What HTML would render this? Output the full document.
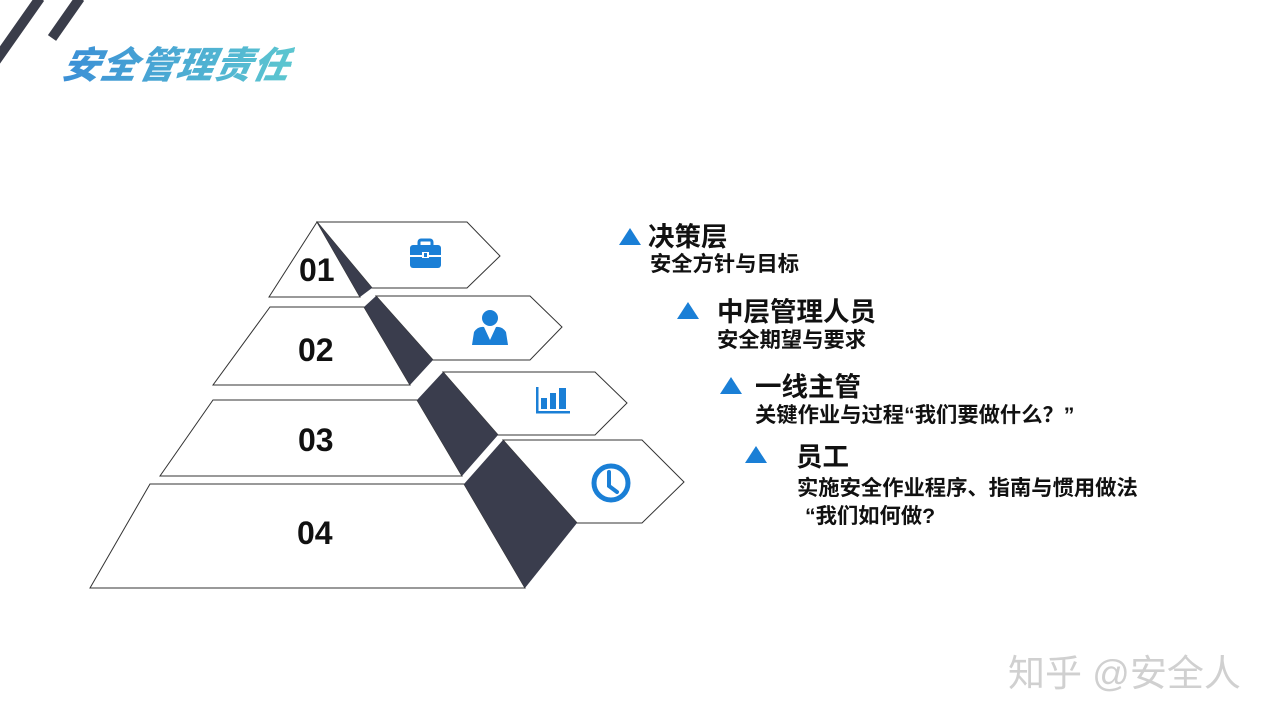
<!DOCTYPE html>
<html><head><meta charset="utf-8"><style>
body{margin:0;width:1280px;height:720px;background:#fff;overflow:hidden;position:relative;font-family:"Liberation Sans","Noto Sans CJK SC",sans-serif}
.t{position:absolute;white-space:nowrap;font-weight:bold;color:#111}
.h{font-size:26.5px}.s{font-size:21.3px}
.n{font-size:32px}
.title{position:absolute;left:64px;top:35px;font-size:37px;font-weight:900;font-style:italic;background:linear-gradient(90deg,#3b8fd6,#5cc6d0);-webkit-background-clip:text;background-clip:text;color:transparent;transform:skewX(-12deg);letter-spacing:1px}
.wm{position:absolute;left:1008px;top:643px;font-size:37px;color:#d0d0d0;white-space:nowrap}
</style></head><body>
<svg width="1280" height="720" style="position:absolute;left:0;top:0">
<line x1="-5" y1="62" x2="40" y2="-2" stroke="#3a3d4a" stroke-width="10"/>
<line x1="52" y1="38" x2="80" y2="-2" stroke="#3a3d4a" stroke-width="10"/>
<g fill="#fff" stroke="#333" stroke-width="1">
<polygon points="317,222 269,297 360,297"/>
<polygon points="317,222 467,222 500,256 467,288 372,288"/>
<polygon points="270,307 364,307 410,385 213,385"/>
<polygon points="376,296 530,296 562,327 530,360 433,360"/>
<polygon points="213,400 417,400 462,476 160,476"/>
<polygon points="443,372 595,372 627,403 595,435 498,435"/>
<polygon points="150,484 464,484 525,588 90,588"/>
<polygon points="503,440 642,440 684,482 642,523 577,523"/>
</g>
<g fill="#3a3d4d">
<polygon points="317,222 372,288 360,297"/>
<polygon points="364,307 376,296 433,360 410,385"/>
<polygon points="417,400 443,372 498,435 462,476"/>
<polygon points="464,484 503,440 577,523 525,588"/>
</g>
<g fill="#1a7fd6">
<rect x="410" y="245" width="31" height="23" rx="3"/>
<rect x="419" y="240" width="13" height="7" rx="2" fill="none" stroke="#1a7fd6" stroke-width="3"/>
<rect x="410" y="255" width="31" height="2" fill="#fff"/>
<rect x="422" y="252" width="7" height="6" fill="#fff"/><rect x="424" y="253" width="3" height="4"/>
<circle cx="490" cy="318" r="8"/>
<path d="M472 345 L474 332 Q478 326 484 327 L490 340 L496 327 Q502 326 506 332 L508 345 Z"/>
<path d="M487 330 L490 338 L493 330 Z" fill="#fff"/>
<rect x="536" y="387" width="2.5" height="26"/><rect x="536" y="411" width="34" height="2.5"/>
<rect x="541" y="398" width="6" height="11"/><rect x="550" y="393" width="6" height="16"/><rect x="559" y="388" width="7" height="21"/>
</g>
<circle cx="611" cy="483" r="17" fill="none" stroke="#1a7fd6" stroke-width="5"/>
<path d="M609 472 L609 486 L617 492" fill="none" stroke="#1a7fd6" stroke-width="4" stroke-linecap="round"/>
<g fill="#1a7fd6">
<polygon points="630,228 641,245 619,245"/>
<polygon points="688,302 699,319 677,319"/>
<polygon points="731,377 742,394 720,394"/>
<polygon points="756,446 767,463 745,463"/>
</g>
</svg>
<div class="title">安全管理责任</div>
<div class="t n" style="left:299px;top:252px">01</div>
<div class="t n" style="left:298px;top:332px">02</div>
<div class="t n" style="left:298px;top:422px">03</div>
<div class="t n" style="left:297px;top:515px">04</div>
<div class="t h" style="left:648px;top:215px">决策层</div>
<div class="t s" style="left:650px;top:247px">安全方针与目标</div>
<div class="t h" style="left:717px;top:290px">中层管理人员</div>
<div class="t s" style="left:717px;top:323px">安全期望与要求</div>
<div class="t h" style="left:755px;top:365px">一线主管</div>
<div class="t s" style="left:755px;top:398px">关键作业与过程“我们要做什么？”</div>
<div class="t h" style="left:796px;top:435px">员工</div>
<div class="t s" style="left:797px;top:471px">实施安全作业程序、指南与惯用做法</div>
<div class="t s" style="left:805px;top:499px">“我们如何做?</div>
<div class="wm">知乎 @安全人</div>
</body></html>
